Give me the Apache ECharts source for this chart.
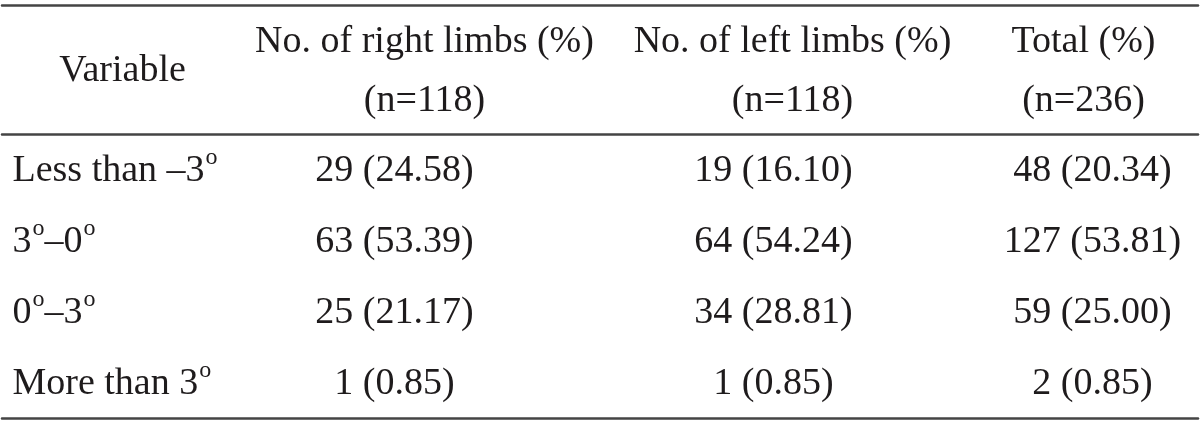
<!DOCTYPE html>
<html>
<head>
<meta charset="utf-8">
<script src="https://cdn.jsdelivr.net/npm/echarts@6/dist/echarts.min.js"></script>
<style>
  html, body { margin: 0; padding: 0; background: #fff; }
  #chart { width: 1200px; height: 424px; }
</style>
</head>
<body>
<div id="chart"></div>
<script>
// table content
const columns = ['Variable', 'No. of right limbs (%)', 'No. of left limbs (%)', 'Total (%)'];
const columnN = ['', '(n=118)', '(n=118)', '(n=236)'];
const variables = ['Less than –3°', '3°–0°', '0°–3°', 'More than 3°'];
const rightCount = [29, 63, 25, 1];
const rightPct = ['24.58', '53.39', '21.17', '0.85'];
const leftCount = [19, 64, 34, 1];
const leftPct = ['16.10', '54.24', '28.81', '0.85'];
const totalCount = [48, 127, 59, 2];
const totalPct = ['20.34', '53.81', '25.00', '0.85'];

// layout tweaks per column (px offsets from band centre)
const headerOffset = [-29, -26, 43, 35];
const bodyOffset = [-139, -56, 24, 44];

const chart = echarts.init(document.getElementById('chart'));

const textColor = '#1e1b1c';
const ruleStyle = { color: '#444', width: 2.5 };
const font = { fontFamily: '"Liberation Serif", "DejaVu Serif", serif', fontSize: 38, color: textColor };

const cell = (c, r, text, dx, align) => ({
  value: [c, r],
  name: text,
  label: { offset: [dx, 2], align: align || 'center' }
});

const headerData = columns.map((h, i) =>
  cell(i, 0, columnN[i] ? h + '\n' + columnN[i] : h, headerOffset[i]));

const bodyData = [];
variables.forEach((v, r) => {
  bodyData.push(cell(0, r, v, bodyOffset[0], 'left'));
  bodyData.push(cell(1, r, `${rightCount[r]} (${rightPct[r]})`, bodyOffset[1]));
  bodyData.push(cell(2, r, `${leftCount[r]} (${leftPct[r]})`, bodyOffset[2]));
  bodyData.push(cell(3, r, `${totalCount[r]} (${totalPct[r]})`, bodyOffset[3]));
});

const hiddenCat = (extra) => Object.assign({
  type: 'category',
  boundaryGap: true,
  axisTick: { show: false },
  axisLabel: { show: false },
  splitLine: { show: false }
}, extra);

const labelStyle = Object.assign({
  show: true,
  position: 'inside',
  verticalAlign: 'middle',
  lineHeight: 59,
  opacity: 1,
  formatter: p => p.name.replace(/°/g, '{sup|o}'),
  rich: {
    sup: { fontFamily: font.fontFamily, fontSize: 24, color: textColor, verticalAlign: 'top', padding: [4, 0, 0, 1] }
  }
}, font);

const option = {
  animation: false,
  grid: [
    { left: 2, right: 2, top: 5, height: 129 },
    { left: 2, right: 2, top: 134, height: 284 }
  ],
  xAxis: [
    hiddenCat({ gridIndex: 0, data: columns, position: 'top', axisLine: { show: true, lineStyle: ruleStyle } }),
    hiddenCat({ gridIndex: 1, data: columns, position: 'top', axisLine: { show: true, lineStyle: ruleStyle } }),
    hiddenCat({ gridIndex: 1, data: columns, position: 'bottom', axisLine: { show: true, lineStyle: ruleStyle } })
  ],
  yAxis: [
    hiddenCat({ gridIndex: 0, data: ['header'], axisLine: { show: false } }),
    hiddenCat({ gridIndex: 1, data: variables, inverse: true, axisLine: { show: false } })
  ],
  series: [
    {
      type: 'scatter',
      xAxisIndex: 0,
      yAxisIndex: 0,
      symbolSize: 0,
      silent: true,
      itemStyle: { opacity: 1 },
      label: labelStyle,
      data: headerData
    },
    {
      type: 'scatter',
      xAxisIndex: 1,
      yAxisIndex: 1,
      symbolSize: 0,
      silent: true,
      itemStyle: { opacity: 1 },
      label: labelStyle,
      data: bodyData
    }
  ]
};

chart.setOption(option);
</script>
</body>
</html>
